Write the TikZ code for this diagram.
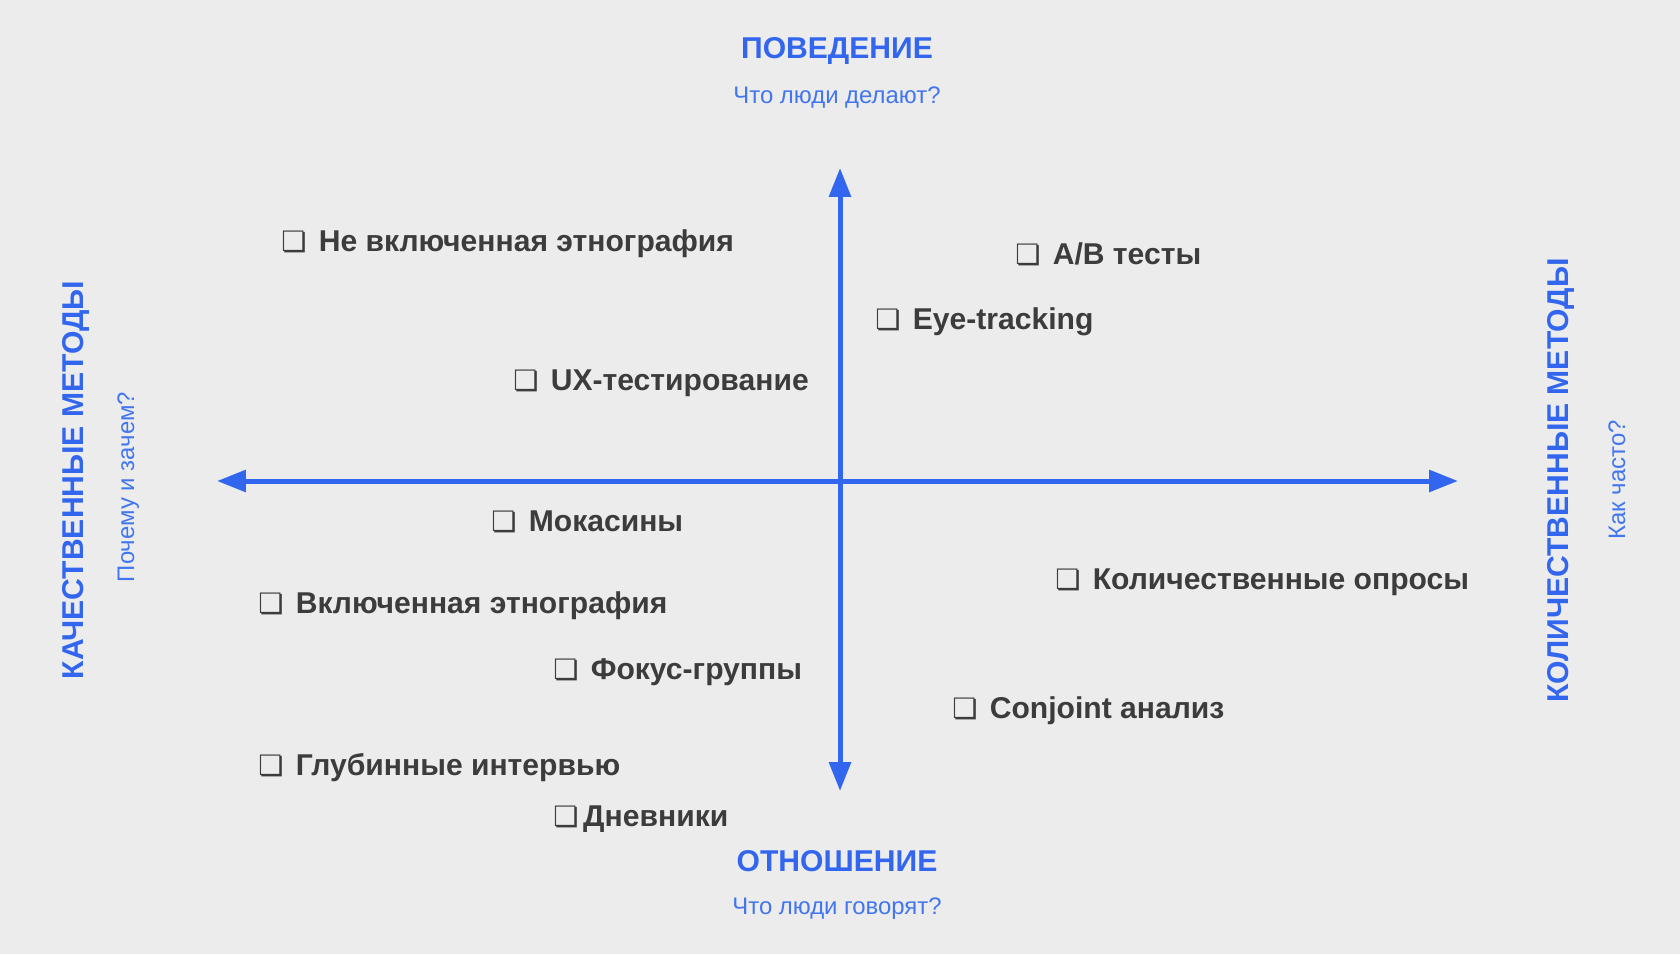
\documentclass[tikz,border=0pt]{standalone}
\usepackage{fontspec}
\setmainfont{Liberation Sans}
\newfontfamily\symfont{DejaVu Sans}
\usetikzlibrary{arrows.meta}
\definecolor{axisblue}{RGB}{50,102,238}
\definecolor{subblue}{RGB}{66,118,238}
\definecolor{itemgray}{RGB}{60,60,60}
\definecolor{bggray}{RGB}{236,236,236}
\newcommand{\chk}[1][26.7pt]{\makebox[#1][l]{\symfont\bfseries\fontsize{20}{20}\selectfont ❏}}

\begin{document}
\begin{tikzpicture}[
  x=0.025cm, y=-0.025cm,
  head/.style={font=\fontsize{21.4}{25}\selectfont\bfseries, text=axisblue, anchor=base, inner sep=0pt},
  sub/.style={font=\fontsize{17}{20}\selectfont, text=subblue, anchor=base, inner sep=0pt},
  item/.style={font=\fontsize{21.4}{25}\selectfont\bfseries, text=itemgray, anchor=base west, inner sep=0pt},
  axis/.style={{Triangle[length=0.72cm,width=0.53cm]}-{Triangle[length=0.72cm,width=0.53cm]},
    line width=0.125cm, draw=axisblue}]
  \fill[bggray] (0,0) rectangle (1680,954);
  \useasboundingbox (0,0) rectangle (1680,954);
  \coordinate (top) at (840,168);
  \coordinate (bottom) at (840,791);
  \coordinate (left) at (217,481);
  \coordinate (right) at (1458,481);
  \draw[axis] (top) -- (bottom);
  \draw[axis] (left) -- (right);
  \node[head] (behave) at (837,58.5) {ПОВЕДЕНИЕ};
  \node[sub] (behaveq) at (837,103.5) {Что люди делают?};
  \node[head] (attit) at (837,871.5) {ОТНОШЕНИЕ};
  \node[sub] (attitq) at (837,914) {Что люди говорят?};
  \node[head, rotate=90] (qual) at (83.3,480) {КАЧЕСТВЕННЫЕ МЕТОДЫ};
  \node[sub, rotate=90] (qualq) at (134,487) {Почему и зачем?};
  \node[head, rotate=90] (quant) at (1568.3,480.5) {КОЛИЧЕСТВЕННЫЕ МЕТОДЫ};
  \node[sub, rotate=90] (quantq) at (1625,480) {Как часто?};
  \node[item] (noneth) at (281,251.5) {\chk Не включенная этнография};
  \node[item] (ab) at (1015,264.5) {\chk A/B тесты};
  \node[item] (eye) at (875,329.5) {\chk Eye-tracking};
  \node[item] (ux) at (513,390.5) {\chk UX-тестирование};
  \node[item] (moc) at (491,531.5) {\chk Мокасины};
  \node[item] (survey) at (1055,589.5) {\chk Количественные опросы};
  \node[item] (eth) at (258,613.5) {\chk Включенная этнография};
  \node[item] (focus) at (553,679.5) {\chk Фокус-группы};
  \node[item] (conj) at (952,718.5) {\chk Conjoint анализ};
  \node[item] (deep) at (258,775.5) {\chk Глубинные интервью};
  \node[item] (diary) at (553,826.5) {\chk[21.3pt]Дневники};
\end{tikzpicture}
\end{document}
